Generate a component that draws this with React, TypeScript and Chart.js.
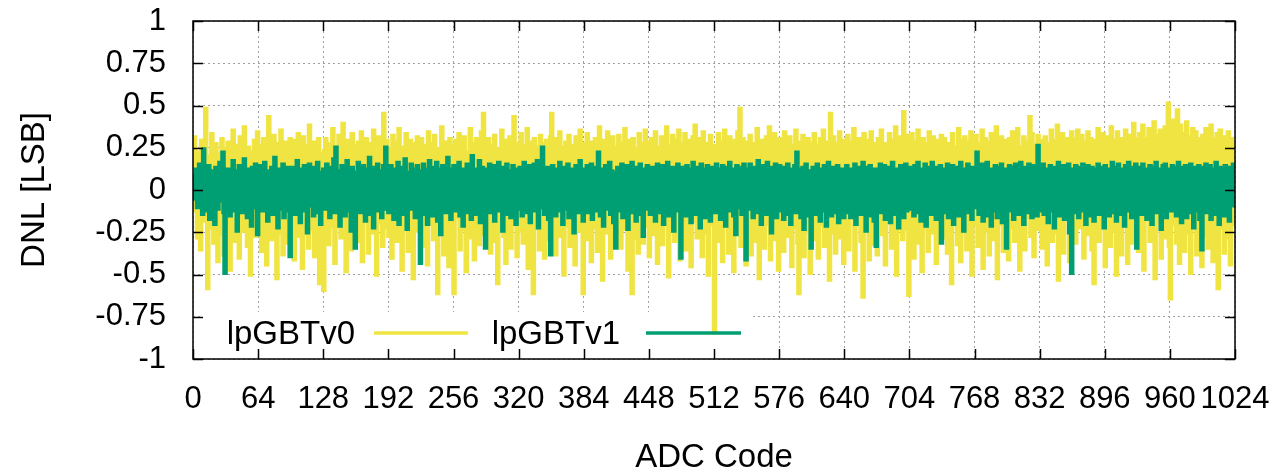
import React, { useEffect, useRef } from 'react';
import { Chart, registerables } from 'chart.js';

Chart.register(...registerables);

const seriesLabels = ['lpGBTv0', 'lpGBTv1'];
const seriesColors = ['#f0e442', '#009e73'];
const xTitle = 'ADC Code';
const yTitle = 'DNL [LSB]';
const xMin = 0;
const xMax = 1024;
const xStep = 64;
const yMin = -1;
const yMax = 1;
const yStep = 0.25;

// DNL of lpGBTv0, one value per ADC code (0..1023)
const lpGBTv0 = [
  .02,.31,-.12,.22,-.28,.18,.05,-.35,.29,.12,-.18,.25,.48,-.1,-.58,.2,.14,-.22,.33,.08,-.31,.16,.27,-.15,-.42,.21,.1,-.26,.3,.06,-.38,.24,
  .17,-.2,.28,.09,-.47,.23,-.05,.35,-.3,.13,.26,-.16,.2,-.4,.31,.04,-.24,.19,.37,-.13,.11,-.33,.25,.07,-.5,.22,.15,-.19,.29,-.27,.12,.34,
  -.22,.18,.26,-.36,.1,.3,-.14,.21,-.44,.16,.43,-.09,.24,-.29,.13,.32,-.17,.2,-.52,.27,.08,-.25,.35,.14,-.38,.19,.28,-.11,.23,-.31,.06,.3,
  -.2,.25,.12,-.41,.29,.17,-.13,.33,-.27,.09,.22,-.46,.31,.15,-.18,.26,.04,-.34,.38,.2,-.23,.11,.28,-.39,.16,.24,-.07,.3,-.55,.21,.13,-.26,
  -.59,.23,.3,-.12,.19,-.32,.27,.1,-.21,.36,.14,-.43,.25,.07,-.17,.32,.2,-.28,.12,.39,-.15,.24,-.48,.18,.29,-.08,.22,-.35,.33,.11,-.24,.26,
  .16,-.3,.28,.05,-.2,.34,-.42,.21,.13,-.16,.3,.24,-.37,.1,.27,-.25,.19,.35,-.11,.22,-.5,.15,.31,-.19,.08,.26,-.33,.45,.12,-.22,.29,.17,
  -.27,.24,.14,-.4,.32,.09,-.15,.28,-.3,.2,.36,-.12,.17,-.47,.25,.11,-.21,.33,.06,-.36,.23,.29,-.18,.15,-.52,.27,.1,-.24,.31,.19,-.14,.22,
  .3,-.33,.18,.26,-.1,.21,-.44,.34,.13,-.2,.27,.08,-.29,.32,.16,-.17,-.61,.24,.11,-.25,.37,.2,-.38,.14,.28,-.13,.23,-.45,.3,.09,-.22,.26,
  -.61,.2,.29,-.16,.12,.33,-.35,.25,.07,-.23,.31,.18,-.48,.22,.14,-.12,.36,-.28,.19,.27,-.41,.1,.3,-.19,.24,-.32,.16,.34,-.09,.45,-.26,.21,
  .13,-.21,.3,.22,-.37,.17,.26,-.14,.32,-.3,.09,-.55,.24,.19,-.18,.35,.11,-.27,.21,-.43,.29,.15,-.1,.31,-.34,.2,.25,.43,-.2,.12,-.39,.27,
  .18,-.24,.33,.1,-.31,.26,-.15,.21,.36,-.46,.14,.28,-.19,.23,-.61,.3,.08,-.22,.25,.17,-.35,.32,-.11,.2,.27,-.4,.13,.29,-.17,.24,-.29,.31,
  .45,-.2,.16,.3,-.38,.22,.11,-.14,.34,-.27,.19,.25,-.5,.13,.28,-.21,.09,.32,-.33,.2,.26,-.12,.17,-.44,.31,.14,-.24,.23,.35,-.18,.1,-.61,
  .27,.15,-.29,.33,-.13,.21,.28,-.42,.18,.1,-.22,.3,.24,-.36,.12,.37,-.17,.23,-.53,.29,.16,-.25,.2,.34,-.11,.26,-.4,.14,.31,-.19,.22,-.3,
  .25,-.16,.32,.12,-.34,.27,.19,-.23,.36,-.09,.21,-.47,.29,.14,-.2,-.61,.3,.17,-.28,.24,.1,-.37,.33,.22,-.14,.27,-.31,.16,.35,-.21,.13,.28,
  -.39,.23,.3,-.15,.18,-.26,.34,.11,-.43,.25,.2,-.12,.31,-.32,.15,.28,-.19,.37,.09,-.51,.26,.17,-.24,.32,.13,-.3,.22,.29,-.16,.35,-.41,.19,
  .27,-.22,.14,.33,-.35,.2,.29,-.11,.24,-.45,.16,.31,-.18,.38,.1,-.28,.23,.3,-.14,.19,-.39,.34,.12,-.25,.27,.21,-.5,.17,.32,-.2,.25,.22,
  -.84,.26,.18,-.3,.33,.12,-.21,.28,-.42,.2,.35,-.15,.24,.09,-.37,.31,.17,-.26,.29,-.48,.22,.13,-.19,.34,.25,.48,-.33,.16,.3,-.12,.21,-.44,
  .28,.15,-.23,.32,-.38,.2,.27,-.14,.11,-.3,.36,.22,-.52,.18,.29,-.17,.25,-.34,.13,.31,-.2,.24,.37,-.41,.16,.27,-.1,.33,-.29,.19,.23,-.47,
  .3,-.18,.21,.14,-.36,.34,.25,-.12,.19,-.27,.31,.1,-.45,.26,.2,-.22,.35,.15,-.31,-.61,.28,.17,-.16,.32,-.39,.23,.12,-.24,.3,.2,-.49,.27,
  .16,-.29,.33,.22,-.13,.26,-.4,.19,.3,-.2,.11,.35,-.33,.24,.14,-.18,.28,-.53,.45,.2,-.25,.31,.13,-.37,.27,.18,-.11,.34,-.28,.21,.29,-.43,
  .24,.17,-.22,.32,-.35,.13,.28,-.15,.21,.36,-.47,.19,.26,-.2,.3,.1,-.3,.25,-.63,.33,.15,-.24,.29,.21,-.41,.18,.34,-.13,.23,-.32,.27,.14,
  -.38,.3,.2,-.17,.35,-.26,.12,.27,-.44,.22,.16,-.11,.33,.25,-.34,.19,.29,-.21,.37,-.5,.14,.24,-.16,.31,.2,-.29,.46,.18,-.23,.32,.15,-.62,
  .26,-.19,.33,.13,-.4,.28,.21,-.14,.35,-.31,.17,.24,-.48,.3,.1,-.22,.27,.19,-.36,.34,.12,-.25,.22,.31,-.15,.26,-.43,.2,.29,-.18,.14,.32,
  -.28,.23,.3,-.13,.18,-.37,.27,.16,-.21,-.55,.33,.2,-.16,.25,.12,-.32,.36,.22,-.42,.29,.15,-.19,.31,.24,-.35,.17,.28,-.11,.34,-.5,.21,.26,
  -.2,.32,.14,-.33,.27,.19,-.15,.35,-.46,.22,.3,-.24,.13,.28,-.38,.2,.33,-.12,.25,-.29,.17,.37,-.52,.23,.11,-.2,.31,.26,-.36,.18,.29,-.14,
  .24,-.41,.3,.15,-.22,.34,.2,-.3,.27,-.13,.36,.12,-.47,.25,.19,-.18,.31,-.35,.22,.28,-.16,.14,.43,-.27,.33,.2,-.39,.26,.17,-.23,.32,-.12,
  .29,.18,-.34,.25,-.2,.31,.13,-.44,.27,.22,-.15,.35,-.3,.16,.29,-.25,.21,.38,-.53,.24,.12,-.19,.33,-.37,.2,.27,-.13,.3,.18,-.42,.25,.34,
  -.17,.22,.3,-.31,.16,.35,-.22,.26,-.14,.32,.2,-.4,.28,.11,-.26,.34,.23,-.18,.3,-.35,.17,-.55,.29,.21,-.12,.36,-.3,.19,.27,-.21,.33,.14,
  -.45,.26,.31,-.16,.22,-.33,.37,.18,-.24,.29,.13,-.5,.34,.24,-.14,.3,-.38,.2,.27,-.2,.35,.16,-.43,.32,.25,-.11,.28,-.31,.39,.19,-.26,.3,
  .22,-.36,.33,.17,-.19,.38,-.47,.25,.3,-.14,.21,.36,-.3,.27,.13,-.22,.4,-.52,.26,.32,-.18,.23,.35,-.4,.19,.3,-.15,.37,-.28,.24,.51,-.33,
  -.64,.3,.41,-.2,.35,.24,-.31,.47,.2,-.43,.38,.27,-.16,.33,-.36,.22,.4,.17,-.25,.31,-.49,.28,.36,-.13,.21,.34,-.38,.26,.3,-.2,.15,-.45,
  .32,.21,-.27,.36,.16,-.34,.29,-.18,.38,.24,-.42,.3,.2,-.15,.33,-.58,.27,.35,-.22,.19,.31,-.37,.25,.16,-.28,.34,.22,-.44,.3,.18,-.2,.28,
];

// DNL of lpGBTv1, one value per ADC code (0..1023)
const lpGBTv1 = [
  .0,.08,-.05,.12,-.1,.06,.15,-.08,.1,-.14,.24,.03,-.12,.09,-.04,.14,-.17,.07,.11,-.09,.05,-.2,.13,.02,-.11,.08,.16,-.06,.1,.22,-.13,-.49,
  .07,-.1,.12,.04,-.15,.09,-.06,.17,-.12,.05,.11,-.24,.08,.14,-.07,.03,-.13,.1,.18,-.09,.06,-.16,.12,-.04,.09,-.21,.13,.05,-.1,.15,-.08,-.26,
  .1,-.07,.14,.02,-.12,.08,.16,-.1,.05,-.18,.11,.07,-.09,.13,-.14,.04,.19,-.06,.1,-.22,.08,.12,-.11,.03,.15,-.16,.09,-.05,.13,.06,-.12,-.39,
  .09,.13,-.08,.06,-.14,.11,.17,-.1,.04,-.19,.12,.08,-.06,.14,-.12,.1,-.25,.07,.15,-.09,.11,.02,-.15,.13,-.07,.09,.16,-.13,.05,-.2,.1,-.09,
  .12,-.11,.08,.15,-.06,.1,-.16,.13,.04,-.09,.18,-.13,.25,.06,-.1,.11,-.21,.09,.14,-.07,.12,-.15,.05,.17,-.12,.08,.1,-.24,.13,-.05,.07,-.34,
  .1,-.08,.16,.05,-.13,.11,-.06,.14,.08,-.18,.12,-.1,.07,.19,-.14,.09,.03,-.22,.13,.1,-.07,.15,-.12,.06,.11,-.16,.08,.14,-.09,.25,-.11,.06,
  -.13,.1,.14,-.07,.09,-.17,.12,.05,-.1,.16,-.2,.08,.13,-.06,.11,-.14,.18,.04,-.23,.1,.07,-.11,.15,-.08,.12,.06,-.16,.1,.14,-.12,.09,-.43,
  .11,-.09,.15,.06,-.14,.12,-.2,.09,.17,-.07,.1,-.15,.13,.04,-.11,.16,-.18,.08,.12,-.26,.1,.14,-.08,.06,-.13,.11,.19,-.1,.07,-.17,.12,-.08,
  .14,-.12,.09,.11,-.07,.16,-.15,.06,.12,-.21,.1,.08,-.1,.15,-.13,.07,.13,-.17,.2,-.09,.11,.05,-.14,.12,-.06,.17,-.19,.09,.13,-.11,.08,-.34,
  .12,-.1,.07,.15,-.13,.09,-.05,.14,-.18,.11,.06,-.12,.16,-.08,.1,.13,-.24,.08,.12,-.09,.15,-.14,.07,.11,-.16,.1,.14,-.07,.09,-.2,.12,.05,
  -.11,.13,.08,-.15,.1,.16,-.09,.12,-.13,.07,.14,-.19,.11,.09,-.06,.15,-.12,.1,.17,-.22,.08,.12,-.1,.25,.06,-.14,.11,-.08,.13,-.17,.09,-.38,
  .1,.14,-.1,.07,-.15,.12,.09,-.12,.16,-.07,.11,-.2,.08,.13,-.11,.06,.15,-.16,.1,-.09,.12,.07,-.25,.11,.14,-.08,.1,-.13,.17,-.1,.06,-.18,
  .12,-.09,.08,.14,-.13,.1,-.07,.15,-.17,.11,.06,-.12,.13,-.1,.22,.08,-.15,.12,.1,-.21,.07,.14,-.11,.09,-.08,.16,-.14,.11,.06,-.19,.1,-.34,
  .09,.13,-.12,.1,-.08,.15,-.16,.07,.12,-.1,.14,-.23,.09,.11,-.07,.16,-.13,.1,.08,-.18,.13,-.09,.11,.15,-.14,.07,-.27,.12,.1,-.11,.14,-.08,
  .11,-.14,.09,.13,-.1,.07,-.18,.12,.15,-.08,.1,-.13,.06,.14,-.2,.11,.09,-.11,.16,-.15,.08,.12,-.09,.13,-.24,.1,.07,-.12,.15,-.1,.09,-.4,
  .13,-.1,.1,.08,-.15,.14,-.12,.11,.06,-.19,.12,.16,-.09,.1,-.14,.13,-.07,.09,-.22,.15,.11,-.1,.08,-.16,.12,.14,-.11,.07,-.18,.1,.13,-.06,
  .1,-.13,.15,.07,-.1,.12,-.17,.09,.14,-.08,.11,-.21,.13,.06,-.12,.16,-.09,.1,.12,-.15,.08,-.26,.14,.11,-.1,.09,.13,-.14,.07,.15,-.12,-.41,
  .12,.09,-.11,.15,-.08,.1,-.16,.13,.07,-.13,.11,.17,-.1,.09,-.2,.12,.14,-.09,.08,-.14,.16,.1,-.12,.07,-.25,.13,.11,-.1,.15,-.16,.09,-.07,
  .14,-.12,.1,.08,-.17,.13,-.09,.11,.15,-.14,.07,-.2,.12,.1,-.1,.14,-.13,.22,.09,-.11,.12,-.16,.08,.13,-.23,.1,.15,-.09,.11,-.15,.07,-.34,
  .1,.13,-.1,.08,-.14,.15,-.07,.11,-.18,.09,.12,-.12,.14,.06,-.21,.1,.16,-.11,.08,-.15,.13,-.09,.11,.07,-.13,.14,-.19,.1,.12,-.08,.09,-.16,
  .12,-.09,.14,.1,-.13,.08,-.16,.12,.09,-.11,.15,-.2,.1,.13,-.08,.07,-.14,.11,.16,-.12,.09,-.24,.13,.1,-.1,.14,-.15,.08,.11,-.18,.12,-.33,
  .11,-.1,.09,.15,-.13,.1,-.08,.14,-.17,.12,.07,-.11,.13,-.19,.1,.16,-.09,.08,-.14,.12,.11,-.22,.09,.14,-.1,.13,-.16,.07,.15,-.12,.1,-.09,
  .13,-.11,.1,.08,-.15,.14,-.09,.11,.16,-.13,.1,-.18,.07,.12,-.1,.15,-.21,.09,.13,-.08,.11,-.14,.16,.1,-.12,.08,-.17,.13,.11,-.09,.14,-.31,
  .1,.12,-.13,.09,-.1,.15,-.16,.11,.08,-.12,.14,-.2,.1,.13,-.09,.07,-.15,.12,.16,-.11,.09,-.24,.12,.1,-.08,.15,-.13,.11,.07,-.17,.13,-.1,
  .12,-.09,.22,.1,-.14,.08,-.11,.15,-.18,.13,.1,-.1,.16,-.15,.09,.12,-.21,.11,.07,-.12,.14,.1,-.16,.13,-.08,.11,.15,-.19,.09,-.11,.12,-.34,
  .11,-.12,.14,.09,-.1,.13,-.17,.1,.15,-.08,.12,-.14,.07,.16,-.11,.1,-.2,.13,.09,-.13,.11,.15,-.1,.08,-.16,.12,.14,-.09,.1,-.15,.26,-.12,
  .13,-.1,.09,.15,-.14,.11,-.08,.12,-.19,.1,.14,-.12,.08,.13,-.22,.11,.09,-.1,.16,-.15,.12,-.09,.1,.14,-.17,.08,.13,-.11,.15,-.25,.1,-.49,
  .12,.1,-.13,.14,-.09,.11,-.16,.13,.08,-.12,.15,-.1,.09,-.2,.12,.14,-.11,.1,-.15,.13,.07,-.18,.12,.1,-.09,.15,-.14,.11,.13,-.1,.08,-.22,
  .14,-.11,.1,.12,-.15,.09,-.1,.16,-.13,.11,.08,-.18,.13,.15,-.09,.1,-.14,.12,.09,-.21,.14,-.1,.11,.16,-.12,.08,-.16,.13,.1,-.11,.15,-.34,
  .1,.13,-.1,.09,-.14,.15,-.12,.11,.08,-.17,.12,-.09,.14,.1,-.2,.13,-.11,.09,.16,-.13,.11,-.08,.12,-.23,.1,.14,-.1,.15,-.16,.09,.12,-.12,
  .11,-.12,.14,.1,-.09,.13,-.15,.1,.16,-.11,.09,-.19,.13,.11,-.1,.14,-.16,.08,.12,-.13,.15,-.1,.09,-.22,.13,.11,-.12,.1,.14,-.17,.09,-.35,
  .13,-.1,.11,.15,-.13,.09,-.11,.14,-.17,.12,.1,-.14,.08,.16,-.1,.12,-.2,.11,.13,-.12,.09,-.15,.14,.1,-.11,.13,-.18,.1,.12,-.09,.15,.02,
];

const FONT = '"Liberation Sans", Arial, Helvetica, sans-serif';

const zeroPadding = (s: any) => {
  s.paddingTop = 0;
  s.paddingBottom = 0;
  s.paddingLeft = 0;
  s.paddingRight = 0;
};

const gnuplotDecor = {
  id: 'gnuplotDecor',
  beforeDatasetsDraw(chart: any) {
    const { ctx, chartArea: a } = chart;
    ctx.save();
    ctx.fillStyle = '#ffffff';
    ctx.fillRect(a.left + 8, a.bottom - 47, 552, 47);
    ctx.restore();
  },
  afterDatasetsDraw(chart: any) {
    const { ctx, chartArea: a } = chart;
    const xs = chart.scales.x;
    const ys = chart.scales.y;
    ctx.save();
    // legend
    const entries = [
      { textRight: 162, s1: 181, s2: 275 },
      { textRight: 427, s1: 453, s2: 548 },
    ];
    ctx.font = `33px ${FONT}`;
    ctx.fillStyle = '#000';
    ctx.textAlign = 'right';
    ctx.textBaseline = 'alphabetic';
    chart.data.datasets.forEach((ds: any, i: number) => {
      const e = entries[i];
      ctx.fillText(ds.label, a.left + e.textRight, a.bottom - 15);
      ctx.beginPath();
      ctx.strokeStyle = ds.borderColor;
      ctx.lineWidth = 3.5;
      ctx.moveTo(a.left + e.s1, a.bottom - 26);
      ctx.lineTo(a.left + e.s2, a.bottom - 26);
      ctx.stroke();
    });
    // frame and inward tick marks
    ctx.strokeStyle = '#000';
    ctx.lineWidth = 1.5;
    ctx.strokeRect(a.left, a.top, a.right - a.left, a.bottom - a.top);
    ctx.beginPath();
    xs.ticks.forEach((t: any) => {
      const px = Math.round(xs.getPixelForValue(t.value)) + 0.5;
      ctx.moveTo(px, a.bottom);
      ctx.lineTo(px, a.bottom - 10);
      ctx.moveTo(px, a.top);
      ctx.lineTo(px, a.top + 10);
    });
    ys.ticks.forEach((t: any) => {
      const py = Math.round(ys.getPixelForValue(t.value)) + 0.5;
      ctx.moveTo(a.left, py);
      ctx.lineTo(a.left + 10, py);
      ctx.moveTo(a.right, py);
      ctx.lineTo(a.right - 10, py);
    });
    ctx.stroke();
    ctx.restore();
  },
};

export default function App() {
  const canvasRef = useRef<HTMLCanvasElement | null>(null);

  useEffect(() => {
    const canvas = canvasRef.current;
    if (!canvas) return;
    Chart.defaults.font.family = FONT;
    const series = [lpGBTv0, lpGBTv1];
    const chart = new Chart(canvas, {
      type: 'line',
      data: {
        datasets: series.map((vals, i) => ({
          label: seriesLabels[i],
          data: vals.map((v, code) => ({ x: code, y: v })),
          borderColor: seriesColors[i],
          backgroundColor: seriesColors[i],
          borderWidth: 4.5,
          pointRadius: 0,
          stepped: 'before' as const,
          fill: false,
          order: i === 0 ? 1 : 0,
        })),
      },
      options: {
        responsive: false,
        animation: false,
        devicePixelRatio: 1,
        normalized: true,
        layout: { padding: { top: 21, right: 41, left: 0, bottom: 0 } },
        plugins: { legend: { display: false }, tooltip: { enabled: false } },
        scales: {
          x: {
            type: 'linear',
            min: xMin,
            max: xMax,
            afterFit: (s: any) => { s.height = 114; zeroPadding(s); },
            ticks: {
              stepSize: xStep,
              autoSkip: false,
              maxRotation: 0,
              minRotation: 0,
              padding: 22,
              color: '#000',
              font: { size: 31 },
              callback: (v: any) => String(v),
            },
            grid: { color: '#a0a0a0', lineWidth: 1, drawTicks: false },
            border: { display: false, dash: [2, 3] },
            title: {
              display: true,
              text: xTitle,
              color: '#000',
              font: { size: 33, lineHeight: 0.9 },
              padding: { top: 0, bottom: 0 },
            },
          },
          y: {
            type: 'linear',
            min: yMin,
            max: yMax,
            afterFit: (s: any) => { s.width = 193; zeroPadding(s); },
            ticks: {
              stepSize: yStep,
              autoSkip: false,
              padding: 27,
              color: '#000',
              font: { size: 31 },
              callback: (v: any) => String(v),
            },
            grid: { color: '#a0a0a0', lineWidth: 1, drawTicks: false },
            border: { display: false, dash: [2, 3] },
            title: {
              display: true,
              text: yTitle,
              color: '#000',
              font: { size: 33, lineHeight: 1.2 },
              padding: { top: 15, bottom: 0 },
            },
          },
        },
      },
      plugins: [gnuplotDecor],
    });
    return () => chart.destroy();
  }, []);

  return (
    <div style={{ position: 'absolute', left: 0, top: 0, width: 1276, height: 473, background: '#fff' }}>
      <canvas ref={canvasRef} width={1276} height={473} style={{ display: 'block' }} />
    </div>
  );
}
